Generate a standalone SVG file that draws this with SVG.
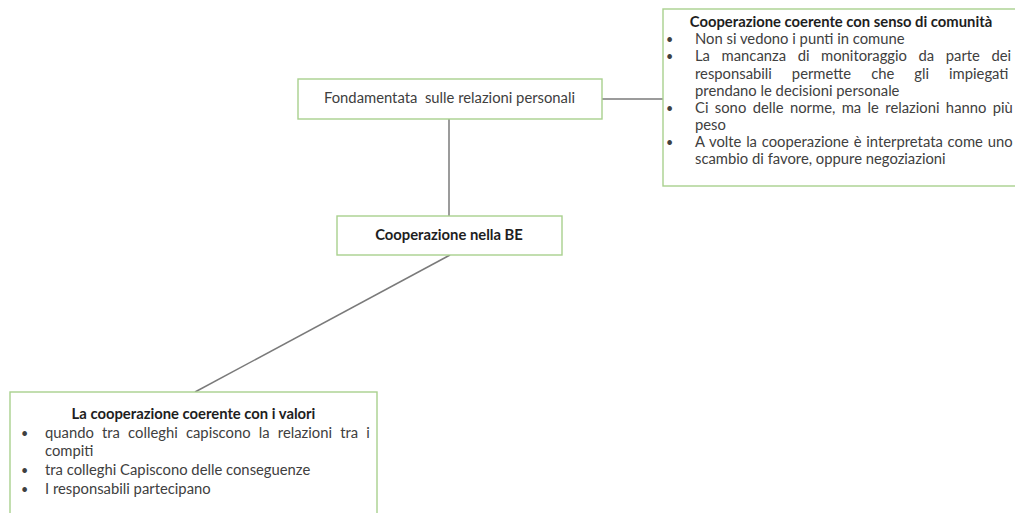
<svg xmlns="http://www.w3.org/2000/svg" width="1015" height="513" viewBox="0 0 1015 513">
  <style>
    .box { fill: #ffffff; stroke: #a9d18e; stroke-width: 1.4; }
    .link { stroke: #7a7a7a; stroke-width: 1.5; fill: none; }
    text { font-family: Lato, "Open Sans", "Liberation Sans", sans-serif; font-size: 14.8px; fill: #404040; }
    .title { font-weight: bold; fill: #1e1e1e; }
    .mid { text-anchor: middle; }
    .dot { font-size: 12.5px; }
  </style>
  <rect width="1015" height="513" fill="#ffffff"/>

  <!-- connectors -->
  <g id="connectors">
    <line class="link" x1="449" y1="119" x2="449" y2="216"/>
    <line class="link" x1="602" y1="99" x2="663" y2="99"/>
    <line class="link" x1="450" y1="255" x2="195" y2="392"/>
  </g>

  <!-- personal relations -->
  <g id="node-relazioni">
    <rect class="box" x="298" y="79" width="304" height="40"/>
    <text x="449.5" y="103" class="mid" xml:space="preserve">Fondamentata  sulle relazioni personali</text>
  </g>

  <!-- central node -->
  <g id="node-cooperazione">
    <rect class="box" x="337" y="216" width="225" height="39"/>
    <text x="449" y="240" class="mid title">Cooperazione nella BE</text>
  </g>

  <!-- community sense: justified bullet list -->
  <g id="node-comunita">
    <rect class="box" x="663" y="9" width="360" height="177"/>
    <text x="841" y="26.5" class="mid title">Cooperazione coerente con senso di comunità</text>
    <text x="666" y="43.5" class="dot">•</text>
    <text x="695" y="43.5">Non si vedono i punti in comune</text>
    <text x="666" y="61" class="dot">•</text>
    <text x="695" y="61" word-spacing="7.8">La mancanza di monitoraggio da parte dei</text>
    <text x="695" y="78.5" word-spacing="16.2">responsabili permette che gli impiegati</text>
    <text x="695" y="96">prendano le decisioni personale</text>
    <text x="666" y="112.5" class="dot">•</text>
    <text x="695" y="112.5" word-spacing="2.6">Ci sono delle norme, ma le relazioni hanno più</text>
    <text x="695" y="129.5">peso</text>
    <text x="666" y="147" class="dot">•</text>
    <text x="695" y="147" word-spacing="1">A volte la cooperazione è interpretata come uno</text>
    <text x="695" y="164">scambio di favore, oppure negoziazioni</text>
  </g>

  <!-- values: justified bullet list -->
  <g id="node-valori">
    <rect class="box" x="10" y="392" width="367" height="130"/>
    <text x="193.5" y="418.5" class="mid title">La cooperazione coerente con i valori</text>
    <text x="21" y="437.5" class="dot">•</text>
    <text x="45" y="437.5" word-spacing="4.4">quando tra colleghi capiscono la relazioni tra i</text>
    <text x="45" y="456">compiti</text>
    <text x="21" y="475" class="dot">•</text>
    <text x="45" y="475">tra colleghi Capiscono delle conseguenze</text>
    <text x="21" y="494" class="dot">•</text>
    <text x="45" y="494">I responsabili partecipano</text>
  </g>
</svg>
